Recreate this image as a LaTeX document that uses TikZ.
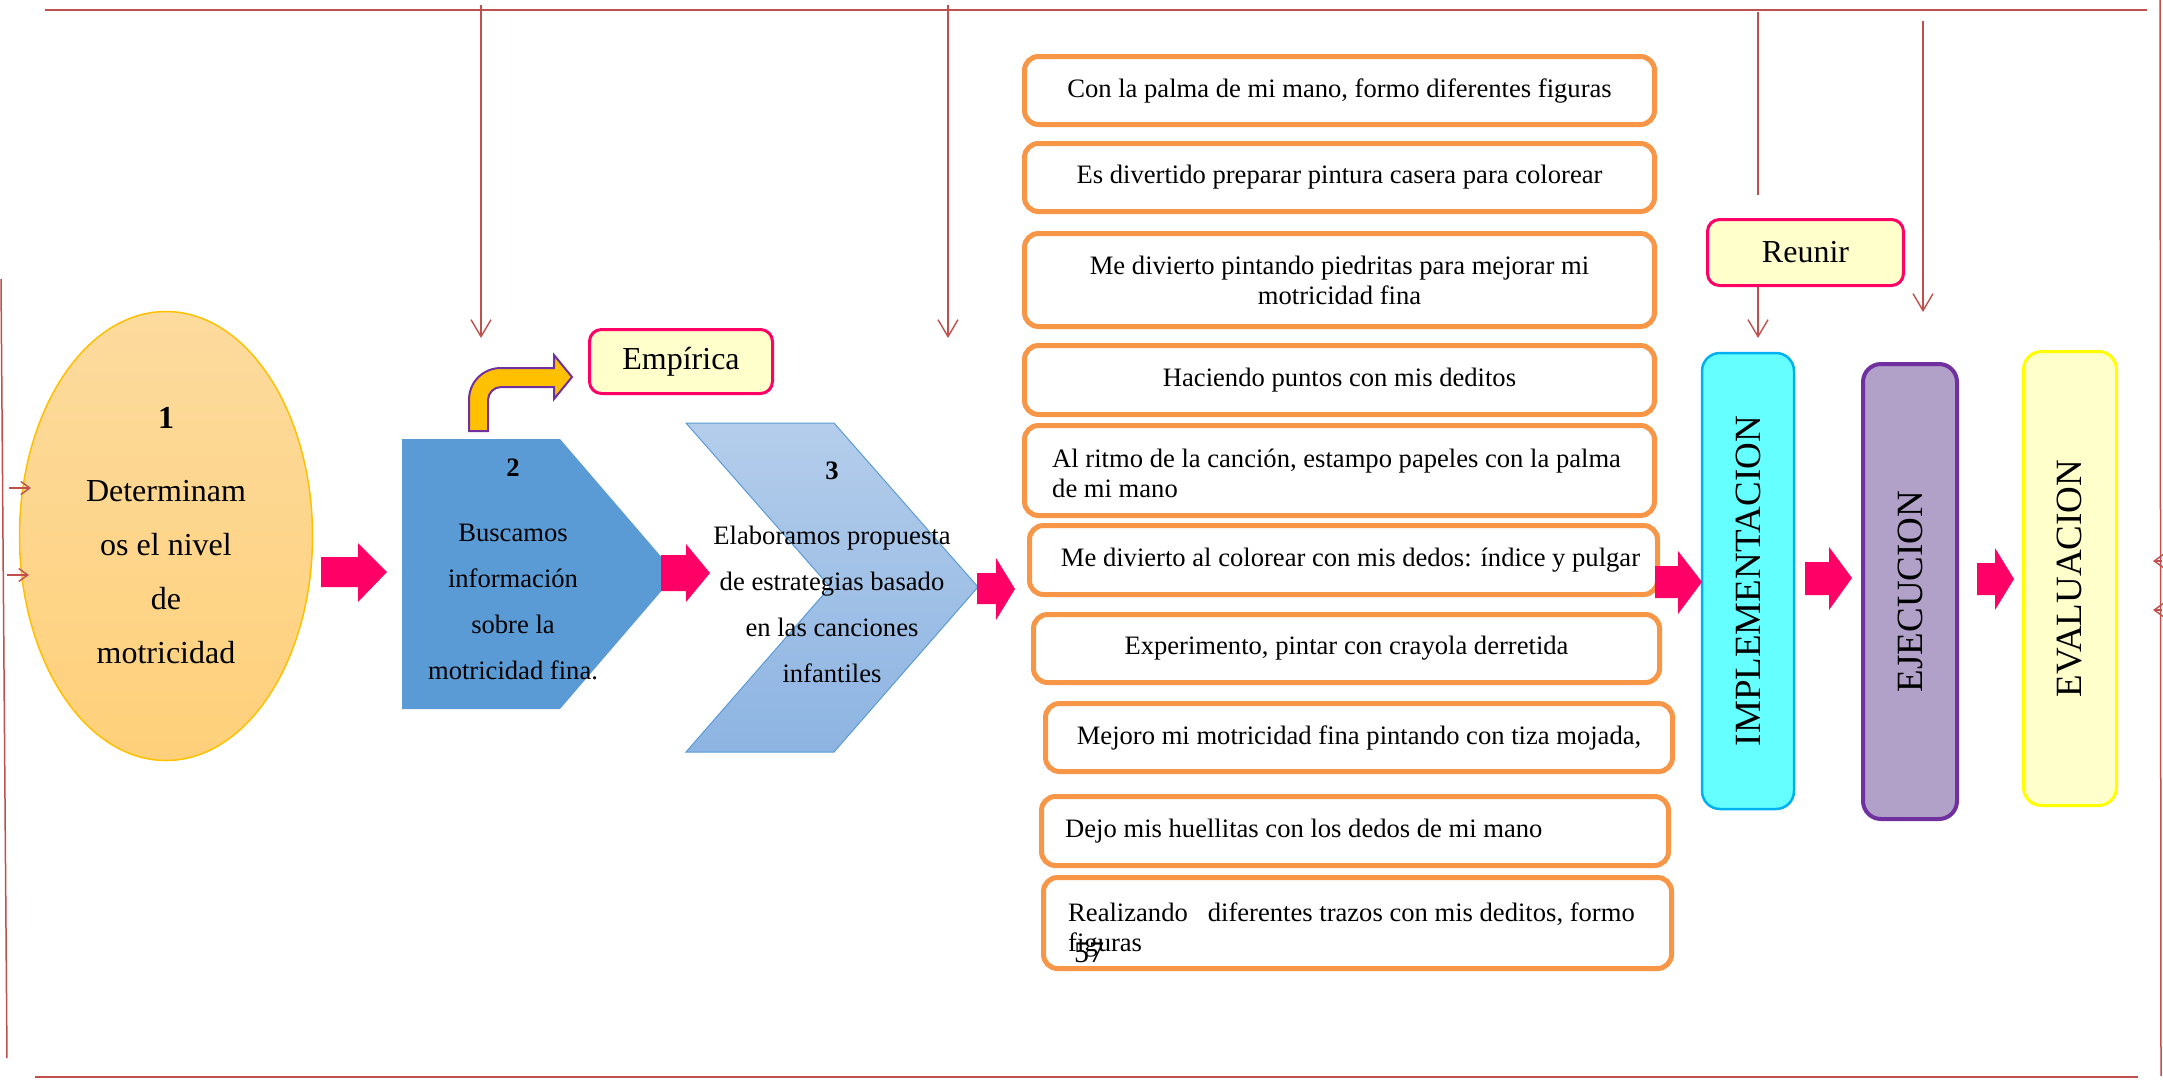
\documentclass[tikz,border=0pt]{standalone}
\usepackage{fontspec}
\setmainfont{Liberation Serif}
\usepackage{graphicx}
\usetikzlibrary{shapes.geometric,arrows.meta}
\definecolor{frame}{HTML}{C0504D}
\definecolor{hot}{HTML}{FF0066}
\definecolor{orng}{HTML}{F79646}
\definecolor{bluep}{HTML}{5B9BD5}
\definecolor{chevtop}{HTML}{B4CDEB}
\definecolor{chevbot}{HTML}{8DB4E2}
\definecolor{elltop}{HTML}{FDDB9E}
\definecolor{ellbot}{HTML}{FED07A}
\definecolor{gold}{HTML}{FFC000}
\definecolor{purp}{HTML}{7030A0}
\definecolor{cream}{HTML}{FFFFCC}
\definecolor{cyanf}{HTML}{66FFFF}
\definecolor{cyand}{HTML}{00B0F0}
\definecolor{lilac}{HTML}{B1A0C7}
\definecolor{yel}{HTML}{FFFF00}
\begin{document}
\begin{tikzpicture}[x=1pt,y=-1pt,
  frameline/.style={draw=frame,line width=2.5pt},
  sideline/.style={draw=frame,line width=1.5pt},
  redarrow/.style={draw=frame,line width=1.4pt,-{Straight Barb[length=17pt,width=20pt]}},
  smallarrow/.style={draw=frame,line width=1.4pt,-{Straight Barb[length=9pt,width=13pt]}},
  obox/.style={draw=orng,line width=5pt,rounded corners=14pt,fill=white,
    font=\fontsize{26.6}{30}\selectfont,align=center,inner sep=0pt},
  btext/.style={font=\fontsize{26.6}{30}\selectfont,align=left,inner sep=0pt,anchor=west},
  tagbox/.style={draw=hot,line width=3pt,rounded corners=12pt,fill=cream,
    font=\fontsize{32}{36}\selectfont,inner sep=0pt},
  stagebox/.style={rounded corners=18pt,inner sep=0pt,font=\fontsize{37}{40}\selectfont},
  steptext/.style={align=center,font=\fontsize{26.6}{46}\selectfont,inner sep=0pt},
  pinkarrow/.style={fill=hot}
]
\useasboundingbox (0,0) rectangle (2163,1080);
\fill[white] (0,0) rectangle (2163,1080);

% frame
\coordinate (ftl) at (45,10);  \coordinate (ftr) at (2147,10);
\coordinate (fbl) at (35,1077); \coordinate (fbr) at (2138,1077);
\coordinate (fl1) at (1,279);  \coordinate (fl2) at (7,1058);
\coordinate (fr1) at (2160,0); \coordinate (fr2) at (2161,1076);
\draw[frameline] (ftl) -- (ftr);
\draw[frameline] (fbl) -- (fbr);
\draw[sideline] (fl1) -- (fl2);
\draw[sideline] (fr1) -- (fr2);

% step 1
\node[ellipse,draw=gold,line width=1.5pt,top color=elltop,bottom color=ellbot,
  minimum width=293pt,minimum height=449pt,inner sep=0pt,align=center,
  font=\fontsize{32}{54}\selectfont] (s1) at (166,536)
  {\textbf{1}\\[19pt]Determinam\\os el nivel\\de\\motricidad};

% step 2 (pentagon)
\fill[bluep] (402,439) -- (560,439) -- (676,574) -- (560,709) -- (402,709) -- cycle;
\node[steptext] (s2) at (513,569) {\textbf{2}\\[19pt]Buscamos\\información\\sobre la\\motricidad fina.};

% step 3 (chevron)
\shadedraw[top color=chevtop,bottom color=chevbot,draw=bluep,line width=1pt]
  (686,423) -- (834,423) -- (978,587) -- (834,752) -- (686,752) -- (830,587) -- cycle;
\node[steptext] (s3) at (832,572) {\textbf{3}\\[19pt]Elaboramos propuesta\\de estrategias basado\\en las canciones\\infantiles};

% bent arrow to Empirica
\filldraw[fill=gold,draw=purp,line width=2pt]
  (469,431) -- (469,400) .. controls (469,382) and (483,368) .. (501,368)
  -- (554,368) -- (554,355) -- (572,377) -- (554,399) -- (554,387) -- (501,387)
  .. controls (494,387) and (488,393) .. (488,400) -- (488,431) -- cycle;
\node[tagbox,minimum width=183pt,minimum height=64pt] (emp) at (681,361.5) {Empírica};

% activity boxes
\node[obox,minimum width=630pt,minimum height=68pt] (ba) at (1339.5,90.5) {Con la palma de mi mano, formo diferentes figuras};
\node[obox,minimum width=630pt,minimum height=68pt] (bb) at (1339.5,177.5) {Es divertido preparar pintura casera para colorear};
\node[obox,minimum width=630pt,minimum height=93pt] (bc) at (1339.5,280) {Me divierto pintando piedritas para mejorar mi\\motricidad fina};
\node[obox,minimum width=630pt,minimum height=69pt] (bd) at (1339.5,380) {Haciendo puntos con mis deditos};
\node[obox,minimum width=630pt,minimum height=90pt] (be) at (1339.5,470.5) {};
\node[btext] (te) at (1052,473) {Al ritmo de la canción, estampo papeles con la palma\\de mi mano};
\node[obox,minimum width=628pt,minimum height=69pt] (bf) at (1343.5,560) {\hspace*{14pt}Me divierto al colorear con mis dedos: índice y pulgar};
\node[obox,minimum width=626pt,minimum height=68pt] (bg) at (1346.5,648.5) {Experimento, pintar con crayola derretida};
\node[obox,minimum width=627pt,minimum height=68pt] (bh) at (1359,737.5) {Mejoro mi motricidad fina pintando con tiza mojada,};
\node[obox,minimum width=627pt,minimum height=69pt] (bi) at (1355,831) {};
\node[btext] (ti) at (1065,831) {Dejo mis huellitas con los dedos de mi mano};
\node[obox,minimum width=628pt,minimum height=91pt] (bj) at (1357.5,923) {};
\node[btext] (tj) at (1068,930) {Realizando\ \ \ diferentes trazos con mis deditos, formo\\figuras};
\node[font=\fontsize{30}{30}\selectfont,inner sep=0pt] (pg) at (1089,953) {57};

% stage boxes
\node[stagebox,draw=cyand,line width=2.5pt,fill=cyanf,minimum width=92pt,minimum height=456pt] (impl) at (1748,581)
  {\rotatebox{90}{IMPLEMENTACION}};
\node[stagebox,draw=purp,line width=4pt,fill=lilac,minimum width=94pt,minimum height=455pt] (ejec) at (1910,591.5)
  {\rotatebox{90}{EJECUCION}};
\node[stagebox,draw=yel,line width=3pt,fill=cream,minimum width=93pt,minimum height=454pt] (eval) at (2070,578.5)
  {\rotatebox{90}{EVALUACION}};
\node[tagbox,minimum width=196pt,minimum height=66pt] (reunir) at (1805.5,252.5) {Reunir};

% pink block arrows
\fill[pinkarrow] (321,557) -- (358,557) -- (358,543) -- (387,572) -- (358,602) -- (358,587) -- (321,587) -- cycle;
\fill[pinkarrow] (661,555) -- (686,555) -- (686,544) -- (710,573) -- (686,602) -- (686,591) -- (661,591) -- cycle;
\fill[pinkarrow] (977,573) -- (996,573) -- (996,558) -- (1015,589) -- (996,620) -- (996,604) -- (977,604) -- cycle;
\fill[pinkarrow] (1655,566) -- (1678,566) -- (1678,551) -- (1702,582) -- (1678,614) -- (1678,598) -- (1655,598) -- cycle;
\fill[pinkarrow] (1805,562) -- (1829,562) -- (1829,547) -- (1852,578) -- (1829,610) -- (1829,595) -- (1805,595) -- cycle;
\fill[pinkarrow] (1977,563) -- (1995,563) -- (1995,548) -- (2014,579) -- (1995,610) -- (1995,595) -- (1977,595) -- cycle;

% red vertical arrows
\coordinate (v1a) at (481,5);    \coordinate (v1b) at (481,338);
\coordinate (v2a) at (948,5);    \coordinate (v2b) at (948,338);
\coordinate (v3a) at (1758,12);  \coordinate (v3b) at (1758,195);
\coordinate (v3c) at (1758,338);
\coordinate (v4a) at (1923,21);  \coordinate (v4b) at (1923,312);
\draw[redarrow] (v1a) -- (v1b);
\draw[redarrow] (v2a) -- (v2b);
\draw[sideline,line width=1.4pt] (v3a) -- (v3b);
\draw[redarrow] (reunir.south -| v3c) -- (v3c);
\draw[redarrow] (v4a) -- (v4b);

% small side arrows
\coordinate (la1) at (9,488);  \coordinate (la1e) at (31,488);
\coordinate (la2) at (7,575);  \coordinate (la2e) at (29,575);
\draw[smallarrow] (la1) -- (la1e);
\draw[smallarrow] (la2) -- (la2e);
\coordinate (ra1) at (2162,561); \coordinate (ra1e) at (2153,561);
\coordinate (ra2) at (2162,610); \coordinate (ra2e) at (2153,610);
\draw[smallarrow] (ra1) -- (ra1e);
\draw[smallarrow] (ra2) -- (ra2e);
\end{tikzpicture}
\end{document}
